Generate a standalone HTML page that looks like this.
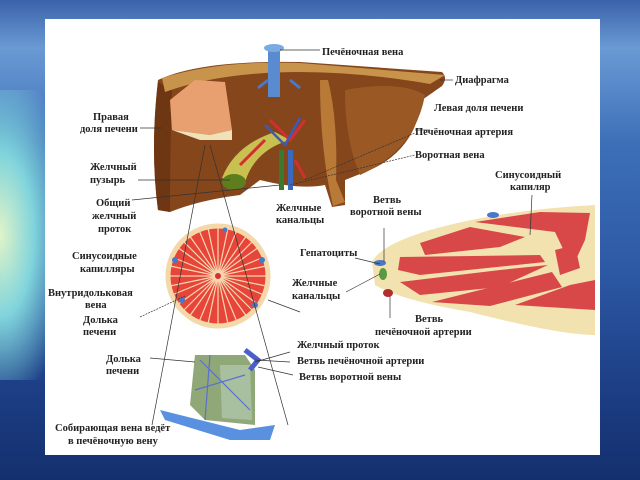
<!DOCTYPE html>
<html><head><meta charset="utf-8"><style>
html,body{margin:0;padding:0;width:640px;height:480px;overflow:hidden}
body{background:linear-gradient(180deg,#3a62aa 0%,#6a9ad4 10%,#3d6fb8 30%,#2e5aa6 55%,#1d3f86 80%,#14306e 100%)}
#glow{position:absolute;left:0;top:90px;width:60px;height:290px;background:radial-gradient(ellipse at 0% 50%,#e0f4c8 0%,#80d4dc 40%,rgba(60,120,200,0) 85%)}
#panel{position:absolute;left:45px;top:19px;width:555px;height:436px;background:#fff}
svg{position:absolute;left:0;top:0}
text{font-family:"Liberation Serif",serif;font-size:10.5px;fill:#222;font-weight:bold}
</style></head><body>
<div id="glow"></div>
<div id="panel"></div>
<svg width="640" height="480" viewBox="0 0 640 480">
<!-- liver -->
<path d="M158 80 Q200 60 300 62 L442 72 Q448 78 442 86 L422 100 Q415 150 370 170 L345 180 L345 205 L332 207 L325 185 Q300 190 260 180 L240 195 Q200 200 170 212 L158 210 Q150 150 158 80Z" fill="#86461c"/>
<path d="M158 82 Q150 150 158 210 L170 212 Q170 150 172 90Z" fill="#6e3612"/>
<path d="M162 78 Q220 60 300 63 L445 75 L430 84 Q360 72 300 72 Q220 72 165 92Z" fill="#c8944c"/>
<path d="M328 80 Q338 120 336 180 L345 202 L333 206 Q320 150 320 80Z" fill="#b87a36"/>
<path d="M345 90 Q400 80 425 95 Q415 150 360 175 Q345 140 345 90Z" fill="#9a5824"/>
<path d="M170 100 L195 80 L225 82 L232 130 L210 135 L172 130Z" fill="#e8a070"/>
<path d="M172 130 L210 135 L232 130 L232 140 L200 140Z" fill="#f0e2b8"/>
<rect x="268" y="47" width="12" height="50" fill="#5a8ad0"/>
<ellipse cx="274" cy="48" rx="10" ry="4" fill="#7aaae0"/>
<path d="M258 88 L268 80 M290 80 L300 88" stroke="#4a78c8" stroke-width="3"/>
<path d="M222 178 Q235 145 275 132 L290 140 Q255 150 245 182Z" fill="#c8c050"/>
<ellipse cx="234" cy="182" rx="12" ry="8" fill="#5e7e1e"/>
<rect x="279" y="150" width="5" height="40" fill="#3a7a30"/>
<rect x="288" y="150" width="5" height="40" fill="#3a6ac0"/>
<path d="M270 120 L290 140 L305 120 M295 160 L305 178 M240 165 L265 140" stroke="#d03030" stroke-width="3" fill="none"/>
<path d="M265 125 L285 145 L300 118" stroke="#3a5ac0" stroke-width="2.5" fill="none"/>
<!-- lobule -->
<circle cx="218" cy="276" r="50" fill="#e8453a"/>
<circle cx="218" cy="276" r="50" fill="none" stroke="#f4d8a8" stroke-width="5"/>
<g stroke="#f6d8b0" stroke-width="1.2">
<line x1="168" y1="276" x2="268" y2="276"/><line x1="218" y1="226" x2="218" y2="326"/>
<line x1="183" y1="241" x2="253" y2="311"/><line x1="253" y1="241" x2="183" y2="311"/>
<line x1="172" y1="257" x2="264" y2="295"/><line x1="172" y1="295" x2="264" y2="257"/>
<line x1="199" y1="230" x2="237" y2="322"/><line x1="237" y1="230" x2="199" y2="322"/>
<line x1="170" y1="266" x2="266" y2="286"/><line x1="170" y1="286" x2="266" y2="266"/>
<line x1="208" y1="228" x2="228" y2="324"/><line x1="228" y1="228" x2="208" y2="324"/>
<line x1="177" y1="247" x2="259" y2="305"/><line x1="177" y1="305" x2="259" y2="247"/>
<line x1="189" y1="235" x2="247" y2="317"/><line x1="247" y1="235" x2="189" y2="317"/>
</g>
<circle cx="218" cy="276" r="3" fill="#d83030"/>
<g fill="#4a78c8"><circle cx="175" cy="260" r="3"/><circle cx="262" cy="260" r="3"/><circle cx="255" cy="305" r="3"/><circle cx="182" cy="300" r="3"/><circle cx="225" cy="230" r="2.5"/></g>
<!-- tissue right -->
<path d="M372 262 Q380 245 430 230 Q500 210 595 205 L595 335 Q560 335 470 312 Q400 300 375 285Z" fill="#f2e2b0"/>
<g fill="#d84848">
<path d="M420 243 L470 227 L525 237 L500 247 L425 255Z"/>
<path d="M400 257 L540 255 L545 262 L420 275 L398 270Z"/>
<path d="M400 282 L500 270 L548 265 L500 287 L420 295Z"/>
<path d="M432 302 L552 272 L562 287 L490 306Z"/>
<path d="M515 305 L570 285 L595 280 L595 310 Z"/>
<path d="M475 222 L540 212 L590 213 L585 240 L572 268 L555 232Z"/>
<path d="M555 250 L575 245 L580 268 L560 275Z"/>
</g>
<ellipse cx="383" cy="274" rx="4" ry="6" fill="#5a9a40"/>
<ellipse cx="388" cy="293" rx="5" ry="4" fill="#b03030"/>
<ellipse cx="380" cy="263" rx="6" ry="3" fill="#4a78c8"/>
<ellipse cx="493" cy="215" rx="6" ry="3" fill="#4a78c8"/>
<!-- cube -->
<path d="M160 410 Q200 420 240 430 L275 425 L270 440 L230 440 L165 420Z" fill="#5a90e0"/>
<path d="M195 355 L245 355 L255 370 L255 425 L205 420 L190 405Z" fill="#90a878"/>
<path d="M220 365 L250 365 L252 420 L222 418Z" fill="#a8c0a0"/>
<path d="M245 350 L258 360 L250 370" stroke="#4a60c8" stroke-width="5" fill="none"/>
<path d="M200 360 L250 410 M195 390 L245 375 M210 355 L205 420" stroke="#5a70d0" stroke-width="1.2" fill="none"/>
<!-- lines -->
<g stroke="#333" stroke-width="0.7" fill="none">
<line x1="205" y1="145" x2="152" y2="425"/><line x1="210" y1="145" x2="288" y2="425"/>
<line x1="280" y1="50" x2="320" y2="50"/><line x1="440" y1="80" x2="453" y2="80"/>
<line x1="415" y1="130" x2="430" y2="130"/><line x1="140" y1="128" x2="162" y2="128"/>
<line x1="138" y1="180" x2="230" y2="180"/><line x1="132" y1="200" x2="280" y2="185"/>
<line x1="305" y1="180" x2="415" y2="133" stroke-dasharray="2,1"/>
<line x1="290" y1="185" x2="415" y2="155" stroke-dasharray="2,1"/>
<line x1="384" y1="228" x2="384" y2="262"/><line x1="532" y1="195" x2="530" y2="235"/>
<line x1="390" y1="318" x2="390" y2="296"/><line x1="346" y1="292" x2="380" y2="274"/>
<line x1="140" y1="317" x2="185" y2="296" stroke-dasharray="2,1"/>
<line x1="300" y1="312" x2="268" y2="300"/><line x1="150" y1="358" x2="195" y2="362"/>
<line x1="290" y1="352" x2="255" y2="362"/><line x1="255" y1="360" x2="290" y2="362"/>
<line x1="258" y1="367" x2="293" y2="375"/>
<line x1="355" y1="258" x2="380" y2="264"/>
</g>
<text x="322" y="55">Печёночная вена</text>
<text x="455" y="83">Диафрагма</text>
<text x="434" y="111">Левая доля печени</text>
<text x="415" y="135">Печёночная артерия</text>
<text x="415" y="158">Воротная вена</text>
<text x="93" y="120">Правая</text>
<text x="80" y="132">доля печени</text>
<text x="90" y="170">Желчный</text>
<text x="90" y="183">пузырь</text>
<text x="96" y="206">Общий</text>
<text x="92" y="219">желчный</text>
<text x="98" y="232">проток</text>
<text x="276" y="211">Желчные</text>
<text x="276" y="223">канальцы</text>
<text x="373" y="203">Ветвь</text>
<text x="350" y="215">воротной вены</text>
<text x="495" y="178">Синусоидный</text>
<text x="510" y="190">капиляр</text>
<text x="300" y="256">Гепатоциты</text>
<text x="72" y="259">Синусоидные</text>
<text x="80" y="272">капилляры</text>
<text x="292" y="286">Желчные</text>
<text x="292" y="299">канальцы</text>
<text x="48" y="296">Внутридольковая</text>
<text x="85" y="308">вена</text>
<text x="83" y="323">Долька</text>
<text x="83" y="335">печени</text>
<text x="415" y="322">Ветвь</text>
<text x="375" y="335">печёночной артерии</text>
<text x="297" y="348">Желчный проток</text>
<text x="106" y="362">Долька</text>
<text x="106" y="374">печени</text>
<text x="297" y="364">Ветвь  печёночной артерии</text>
<text x="299" y="380">Ветвь воротной вены</text>
<text x="55" y="431">Собирающая вена ведёт</text>
<text x="68" y="444">в печёночную вену</text>
</svg>
</body></html>
